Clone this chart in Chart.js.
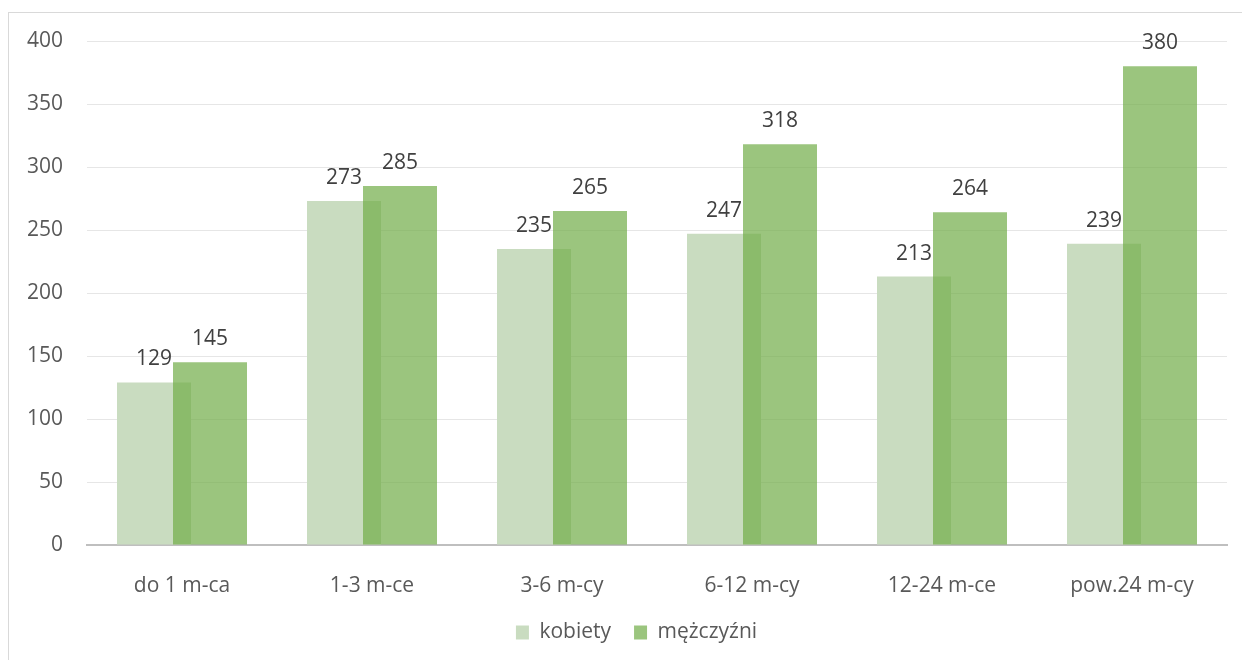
<!DOCTYPE html>
<html>
<head>
<meta charset="utf-8">
<script src="https://cdn.jsdelivr.net/npm/chart.js@4.4.0/dist/chart.umd.min.js"></script>
<style>
  html, body { margin: 0; padding: 0; background: #fff; overflow: hidden; }
  #wrap { position: relative; width: 1242px; height: 660px; overflow: hidden; }
  #frame { position: absolute; left: 8px; top: 12px; width: 1300px; height: 700px; border: 1px solid #d9d9d9; }
  canvas { position: absolute; left: 0; top: 0; }
</style>
</head>
<body>
<div id="wrap">
  <div id="frame"></div>
  <canvas id="chart" width="1242" height="660"></canvas>
</div>
<script>
// Chart data
const categories = ["do 1 m-ca", "1-3 m-ce", "3-6 m-cy", "6-12 m-cy", "12-24 m-ce", "pow.24 m-cy"];
const kobiety = [129, 273, 235, 247, 213, 239];
const mezczyzni = [145, 285, 265, 318, 264, 380];
const yTicks = [0, 50, 100, 150, 200, 250, 300, 350, 400];

const FONT = '"Open Sans", "Noto Sans", sans-serif';
const TEXT = "#595959";

// Men's bars go on top of women's bars, then the value labels
const overlapAndLabels = {
  id: "overlapAndLabels",
  afterLayout(chart) {
    // nudge the legend so it sits where the original one does
    chart.legend.left += 13;
    chart.legend.right += 13;
  },
  beforeDatasetDraw(chart, args) {
    if (args.index === 1) return false;
  },
  afterDatasetsDraw(chart) {
    const ctx = chart.ctx;
    chart.getDatasetMeta(1).controller.draw();
    ctx.save();
    ctx.font = `21px ${FONT}`;
    ctx.fillStyle = "#404040";
    ctx.textAlign = "center";
    ctx.textBaseline = "middle";
    chart.data.datasets.forEach((ds, i) => {
      chart.getDatasetMeta(i).data.forEach((bar, j) => {
        ctx.fillText(ds.data[j], bar.x, bar.y - 23);
      });
    });
    ctx.restore();
  },
};

new Chart(document.getElementById("chart"), {
  type: "bar",
  data: {
    labels: categories,
    datasets: [
      {
        label: "kobiety",
        data: kobiety,
        backgroundColor: "#c9dcc0",
        categoryPercentage: 0.5895,
        barPercentage: 1.3214,
      },
      {
        label: "mężczyźni",
        data: mezczyzni,
        backgroundColor: "rgba(112, 173, 71, 0.7)",
        categoryPercentage: 0.5895,
        barPercentage: 1.3214,
      },
    ],
  },
  options: {
    responsive: false,
    animation: false,
    layout: { padding: { left: 20, right: 15, top: 41, bottom: 7 } },
    plugins: {
      legend: {
        position: "bottom",
        labels: {
          boxWidth: 13,
          boxHeight: 14,
          padding: 23,
          color: TEXT,
          font: { size: 21, family: FONT },
        },
      },
      tooltip: { enabled: false },
    },
    scales: {
      x: {
        grid: { display: false },
        border: { color: "#bfbfbf", width: 2 },
        ticks: { color: TEXT, font: { size: 21, family: FONT }, padding: 20 },
        afterFit(scale) { scale.height = 54; },
      },
      y: {
        min: yTicks[0],
        max: yTicks[yTicks.length - 1],
        ticks: { stepSize: yTicks[1] - yTicks[0], color: TEXT, font: { size: 21, family: FONT }, padding: 24 },
        grid: { color: "#e6e6e6", drawTicks: false },
        border: { display: false },
        afterFit(scale) { scale.width = 67; },
      },
    },
  },
  plugins: [overlapAndLabels],
});
</script>
</body>
</html>
